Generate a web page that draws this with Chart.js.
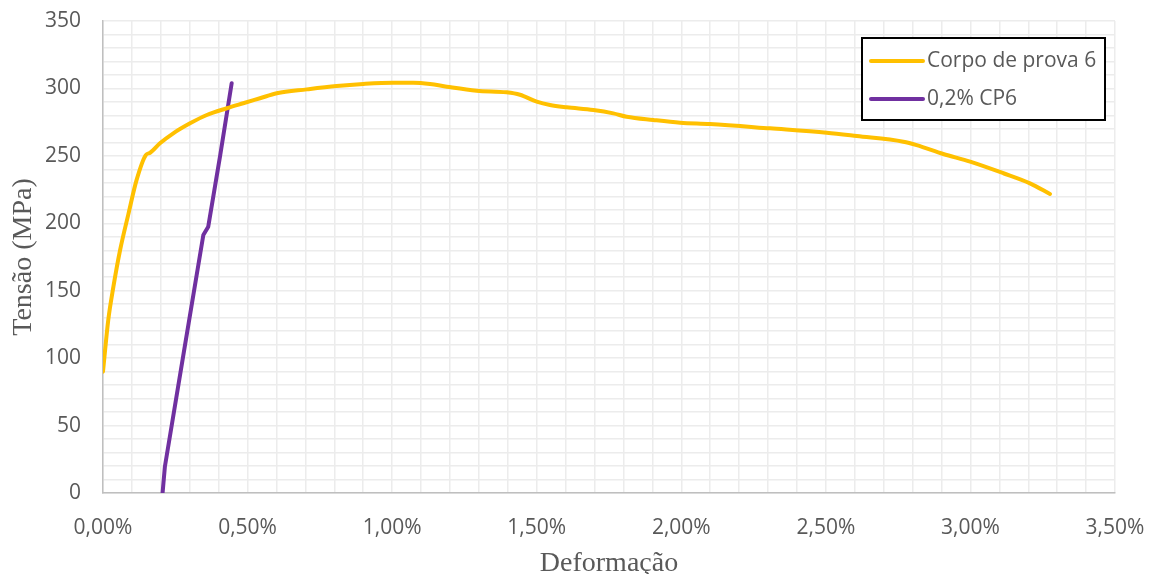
<!DOCTYPE html>
<html>
<head>
<meta charset="utf-8">
<script src="https://cdn.jsdelivr.net/npm/chart.js@4/dist/chart.umd.min.js"></script>
<style>
  html, body { margin: 0; padding: 0; background: #ffffff; }
  #wrap { width: 1157px; height: 574px; position: relative; }
</style>
</head>
<body>
<div id="wrap"><canvas id="chart" width="1157" height="574"></canvas></div>
<script>
// Deformação (%) and Tensão (MPa) for the specimen curve
const cp6Strain = [0.000, 0.018, 0.036, 0.059, 0.088, 0.116, 0.148, 0.163, 0.197, 0.243, 0.301,
  0.359, 0.428, 0.485, 0.543, 0.601, 0.705, 0.808, 0.900, 1.004, 1.073, 1.131, 1.189, 1.292, 1.396,
  1.442, 1.500, 1.546, 1.604, 1.696, 1.765, 1.811, 1.903, 1.996, 2.099, 2.307, 2.503, 2.607, 2.768,
  2.814, 2.906, 2.999, 3.114, 3.206, 3.275];
const cp6Stress = [90, 128, 153, 180, 207, 232, 250.6, 252.3, 259.3, 266.7, 274.1,
  280.3, 285.3, 289, 292.7, 296.4, 299.3, 301.8, 303.3, 304.2, 304.2, 303.3, 301.3, 298.3, 297.1,
  295.3, 290.2, 287.7, 286, 284, 281.5, 279, 276.6, 274.6, 273.6, 270.4, 267.2, 264.7, 260.5,
  258, 251.4, 245.7, 237.1, 229.6, 221.7];

// 0,2% offset line
const offsetStrain = [0.206, 0.214, 0.280, 0.347, 0.364, 0.405, 0.445];
const offsetStress = [0, 19.5, 105, 191.3, 197.5, 250, 303.8];

const seriesLabels = ['Corpo de prova 6', '0,2% CP6'];
const seriesColors = ['#FFC000', '#7030A0'];
const xTitle = 'Deformação';
const yTitle = 'Tensão (MPa)';

const toPoints = (xs, ys) => xs.map((x, i) => ({ x: x, y: ys[i] }));

const tickFont = { family: '"Open Sans", "DejaVu Sans", sans-serif', size: 21 };
const titleFont = { family: '"Liberation Serif", "Times New Roman", serif', size: 28, lineHeight: 0.75 };
const textGray = '#595959';

// Boxed legend in the upper right corner
const boxedLegend = {
  id: 'boxedLegend',
  afterDraw(chart) {
    const ctx = chart.ctx;
    const x0 = 862, y0 = 38, w = 243, h = 82;
    ctx.save();
    ctx.fillStyle = '#ffffff';
    ctx.fillRect(x0, y0, w, h);
    ctx.strokeStyle = '#000000';
    ctx.lineWidth = 2;
    ctx.strokeRect(x0, y0, w, h);
    ctx.font = '21px "Open Sans", "DejaVu Sans", sans-serif';
    ctx.textBaseline = 'middle';
    const rows = [61, 99];
    chart.data.datasets.forEach((ds, i) => {
      const y = rows[i];
      ctx.strokeStyle = ds.borderColor;
      ctx.lineWidth = 4;
      ctx.lineCap = 'round';
      ctx.beginPath();
      ctx.moveTo(871, y);
      ctx.lineTo(923, y);
      ctx.stroke();
      ctx.fillStyle = textGray;
      ctx.fillText(ds.label, 927, y);
    });
    ctx.restore();
  }
};

new Chart(document.getElementById('chart'), {
  type: 'scatter',
  data: {
    datasets: [
      {
        label: seriesLabels[0],
        data: toPoints(cp6Strain, cp6Stress),
        showLine: true,
        borderColor: seriesColors[0],
        backgroundColor: seriesColors[0],
        borderWidth: 4,
        pointRadius: 0,
        cubicInterpolationMode: 'monotone',
        borderCapStyle: 'round',
        borderJoinStyle: 'round'
      },
      {
        label: seriesLabels[1],
        data: toPoints(offsetStrain, offsetStress),
        showLine: true,
        borderColor: seriesColors[1],
        backgroundColor: seriesColors[1],
        borderWidth: 4,
        pointRadius: 0,
        tension: 0,
        borderCapStyle: 'round',
        borderJoinStyle: 'round'
      }
    ]
  },
  options: {
    responsive: false,
    animation: false,
    layout: { padding: { top: 21, right: 42, left: 0, bottom: 0 } },
    plugins: {
      legend: { display: false },
      tooltip: { enabled: false }
    },
    scales: {
      x: {
        type: 'linear',
        min: 0,
        max: 3.5,
        afterFit(scale) {
          scale.height = 81;
          scale.paddingLeft = 0;
          scale.paddingRight = 0;
        },
        ticks: {
          stepSize: 0.1,
          autoSkip: false,
          maxRotation: 0,
          padding: 22,
          color: textGray,
          font: tickFont,
          callback(v) {
            const r = Math.round(v * 100) / 100;
            if (Math.abs(r * 2 - Math.round(r * 2)) > 1e-6) return '';
            return r.toFixed(2).replace('.', ',') + '%';
          }
        },
        grid: { color: '#ececec', lineWidth: 1.5, drawTicks: false },
        border: { color: '#bfbfbf', width: 1.5 },
        title: {
          display: true,
          text: xTitle,
          color: textGray,
          font: titleFont,
          padding: { top: 0, bottom: 0 }
        }
      },
      y: {
        min: 0,
        max: 350,
        afterFit(scale) {
          scale.width = 103;
          scale.paddingTop = 0;
          scale.paddingBottom = 0;
        },
        ticks: {
          stepSize: 10,
          autoSkip: false,
          padding: 22,
          color: textGray,
          font: tickFont,
          callback(v) { return v % 50 === 0 ? String(v) : ''; }
        },
        grid: { color: '#ececec', lineWidth: 1.5, drawTicks: false },
        border: { color: '#bfbfbf', width: 1.5 },
        title: {
          display: true,
          text: yTitle,
          color: textGray,
          font: titleFont,
          padding: { top: 13, bottom: 0 }
        }
      }
    }
  },
  plugins: [boxedLegend]
});
</script>
</body>
</html>
